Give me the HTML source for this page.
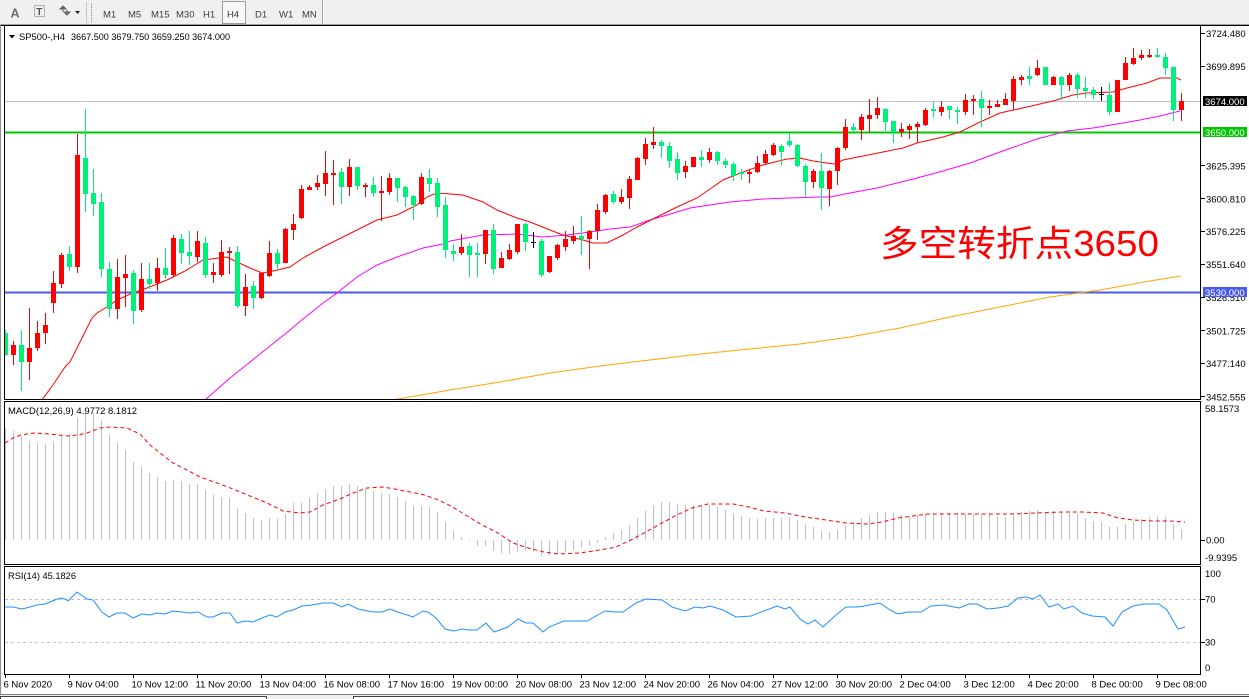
<!DOCTYPE html>
<html><head><meta charset="utf-8">
<style>
html,body{margin:0;padding:0;background:#fff;}
body{width:1249px;height:699px;overflow:hidden;}
svg{display:block;}
text{font-family:"Liberation Sans",Arial,sans-serif;}
</style></head>
<body>
<svg width="1249" height="699" viewBox="0 0 1249 699" xmlns="http://www.w3.org/2000/svg">
<defs>
<clipPath id="cm"><rect x="5" y="26" width="1195" height="373"/></clipPath>
<clipPath id="cd"><rect x="5" y="402" width="1195" height="162"/></clipPath>
<clipPath id="cr"><rect x="5" y="567" width="1195" height="107"/></clipPath>
</defs>
<!-- toolbar -->
<rect x="0" y="0" width="1249" height="25" fill="#f0f0f0"/>
<line x1="0" y1="24.5" x2="1249" y2="24.5" stroke="#a0a0a0"/>
<text x="10.5" y="17.5" font-size="12.5" fill="#6a6a6a" font-weight="bold">A</text>
<rect x="34.5" y="5.5" width="10" height="11" fill="none" stroke="#777" stroke-dasharray="1,1"/>
<text x="36.3" y="15" font-size="10" fill="#555" font-weight="bold">T</text>
<path d="M60 9l3-3 3 3zM64 12l3 3 3-3zM63 7v5M67 10v5" fill="#666" stroke="#666" stroke-width="1"/>
<path d="M75 11h5l-2.5 3z" fill="#222"/>
<line x1="86.5" y1="2" x2="86.5" y2="23" stroke="#c8c8c8"/>
<line x1="91.5" y1="3" x2="91.5" y2="22" stroke="#888" stroke-dasharray="1,1"/>
<rect x="222.5" y="1.5" width="23" height="22" fill="#f8f8f8" stroke="#9c9c9c"/>
<g font-size="9.5" fill="#3c3c3c">
<text x="103" y="17.3">M1</text>
<text x="128" y="17.3">M5</text>
<text x="151" y="17.3">M15</text>
<text x="176" y="17.3">M30</text>
<text x="203" y="17.3">H1</text>
<text x="227" y="17.3">H4</text>
<text x="255" y="17.3">D1</text>
<text x="279" y="17.3">W1</text>
<text x="302" y="17.3">MN</text>
</g>
<line x1="322.5" y1="0" x2="322.5" y2="24" stroke="#a8a8a8"/>
<line x1="323.5" y1="0" x2="323.5" y2="24" stroke="#fff"/>
<!-- frame -->
<line x1="0" y1="25.5" x2="1249" y2="25.5" stroke="#000"/>
<line x1="0.5" y1="25" x2="0.5" y2="694" stroke="#909090"/>
<rect x="4.5" y="25.5" width="1196" height="374" fill="none" stroke="#000"/>
<rect x="4.5" y="401.5" width="1196" height="163" fill="none" stroke="#000"/>
<rect x="4.5" y="566.5" width="1196" height="108" fill="none" stroke="#000"/>
<!-- bottom tab bar -->
<rect x="0" y="694" width="1249" height="5" fill="#f0f0f0"/>
<line x1="0" y1="694.5" x2="1249" y2="694.5" stroke="#808080"/>
<rect x="0.5" y="696.5" width="266" height="4" fill="#fff" stroke="#404040"/>
<rect x="353.5" y="696.5" width="896" height="4" fill="#fff" stroke="#404040"/>

<!-- MAIN PANEL -->
<g clip-path="url(#cm)">
<line x1="5" y1="101.5" x2="1200" y2="101.5" stroke="#c0c0c0"/>
<line x1="5" y1="132.5" x2="1200" y2="132.5" stroke="#00c800" stroke-width="2"/>
<line x1="5" y1="292.5" x2="1200" y2="292.5" stroke="#4a5ae8" stroke-width="2"/>
<polyline fill="none" stroke="#ffa500" stroke-width="1" points="395,399.5 450,390 500,382 550,373 600,366 650,360 700,354 750,349 800,344 850,337 900,328 950,317 1000,307 1050,297 1100,290 1150,281 1181,276"/>
<polyline fill="none" stroke="#ff00ff" stroke-width="1" points="205,400 230,378 260,354 290,330 303,319 323,303 337,293 357,277 377,265 397,257 423,248 443,244 450,241 483,235 517,234 543,237 567,235 590,232 610,229 630,227 650,220 667,215 690,208 710,205 730,202 763,199 790,198 817,197 830,197 850,193 877,188 897,183 917,178 943,171 970,163 1000,152 1037,139 1067,131 1093,128 1117,124 1140,120 1160,116 1180,111"/>
<polyline fill="none" stroke="#ff0000" stroke-width="1" points="42,400 55,382 65,367 70,362 80,342 92,318 97,313 107,307 117,300 133,293 147,288 167,280 183,272 190,268 203,260 227,257 237,262 250,268 262,273 273,271 290,267 303,258 323,247 343,237 357,230 377,220 397,215 417,205 427,197 437,193 450,194 463,195 483,202 497,210 517,218 530,222 550,230 563,235 583,240 593,243 607,243 623,235 637,227 657,217 677,207 697,198 710,189 723,180 743,172 763,165 787,159 800,158 813,161 827,163 835,164 843,160 863,156 883,152 903,148 917,143 943,137 960,132 980,122 1000,113 1027,107 1053,101 1073,95 1087,93 1113,92 1127,88 1147,83 1160,78 1177,78 1181,80"/>
<!-- red candles -->
<path fill="none" stroke="#ff0000" stroke-width="1" d="M13.5 341V365M29.5 308V380M37.5 321V351M45.5 313V344M53.5 271V313M61.5 253V288M77.5 134V273M117.5 259V319M125.5 255V307M141.5 263V312M157.5 258V291M173.5 235V277M197.5 231V262M213.5 263V283M221.5 240V277M229.5 247V274M245.5 274V316M261.5 273V299M269.5 241V277M285.5 228V263M293.5 214V240M301.5 185V219M309.5 185V190M317.5 175V190M325.5 151V196M333.5 160V205M349.5 159V196M365.5 183V197M381.5 176V221M389.5 173V195M421.5 173V205M461.5 234V255M485.5 230V264M501.5 252V268M509.5 244V260M517.5 224V254M549.5 256V273M557.5 244V260M565.5 231V251M573.5 226V244M589.5 230V269M597.5 204V240M605.5 194V214M621.5 189V204M629.5 176V209M637.5 157V180M645.5 138V165M653.5 127V149M685.5 161V178M693.5 157V167M709.5 148V163M749.5 170V183M757.5 156V173M765.5 150V164M773.5 143V156M813.5 169V188M829.5 170V206M837.5 147V185M845.5 119V150M861.5 114V140M869.5 99V133M877.5 97V119M901.5 123V137M909.5 124V139M917.5 122V143M925.5 108V126M941.5 101V116M965.5 94V115M973.5 95V115M989.5 100V115M997.5 100V107M1005.5 93V105M1013.5 76V110M1021.5 75V85M1037.5 60V76M1053.5 76V85M1069.5 73V91M1117.5 80V112M1125.5 57V80M1133.5 48V65M1141.5 50V60M1149.5 49V58M1181.5 93V121"/>
<path fill="#ff0000" d="M11 345h5v10h-5zM27 348h5v14h-5zM35 333h5v15h-5zM43 325h5v8h-5zM51 283h5v20h-5zM59 255h5v29h-5zM75 155h5v112h-5zM115 277h5v32h-5zM123 274h5v4h-5zM139 279h5v31h-5zM155 268h5v15h-5zM171 238h5v37h-5zM195 241h5v16h-5zM211 272h5v3h-5zM219 252h5v23h-5zM227 251h5v2h-5zM243 287h5v19h-5zM259 273h5v25h-5zM267 253h5v23h-5zM283 229h5v34h-5zM291 224h5v6h-5zM299 189h5v29h-5zM307 187h5v3h-5zM315 183h5v4h-5zM323 173h5v11h-5zM331 173h5v2h-5zM347 167h5v20h-5zM363 185h5v2h-5zM379 191h5v2h-5zM387 178h5v14h-5zM419 177h5v27h-5zM459 247h5v6h-5zM483 230h5v24h-5zM499 258h5v10h-5zM507 250h5v9h-5zM515 224h5v28h-5zM547 256h5v16h-5zM555 245h5v13h-5zM563 239h5v8h-5zM571 236h5v5h-5zM587 231h5v8h-5zM595 210h5v21h-5zM603 195h5v17h-5zM619 197h5v5h-5zM627 179h5v19h-5zM635 158h5v22h-5zM643 144h5v15h-5zM651 142h5v3h-5zM683 166h5v6h-5zM691 157h5v10h-5zM707 152h5v8h-5zM747 172h5v2h-5zM755 163h5v9h-5zM763 154h5v9h-5zM771 145h5v10h-5zM811 171h5v11h-5zM827 171h5v18h-5zM835 148h5v23h-5zM843 127h5v21h-5zM859 117h5v13h-5zM867 115h5v4h-5zM875 108h5v7h-5zM899 129h5v3h-5zM907 126h5v4h-5zM915 124h5v3h-5zM923 110h5v15h-5zM939 107h5v5h-5zM963 100h5v12h-5zM971 99h5v2h-5zM987 106h5v2h-5zM995 104h5v3h-5zM1003 99h5v6h-5zM1011 79h5v22h-5zM1019 77h5v3h-5zM1035 68h5v7h-5zM1051 77h5v8h-5zM1067 75h5v10h-5zM1115 80h5v32h-5zM1123 63h5v17h-5zM1131 58h5v6h-5zM1139 55h5v3h-5zM1147 55h5v2h-5zM1179 101h5v9h-5z"/>
<!-- green candles -->
<path fill="none" stroke="#00f07a" stroke-width="1" d="M5.5 330V356M21.5 330V391M69.5 246V271M85.5 109V212M93.5 169V216M101.5 193V277M109.5 262V317M133.5 270V324M149.5 263V289M165.5 248V279M181.5 234V264M189.5 231V265M205.5 237V278M237.5 246V308M253.5 281V309M277.5 249V270M341.5 168V204M357.5 167V190M373.5 177V197M397.5 178V202M405.5 186V207M413.5 195V220M429.5 169V192M437.5 178V217M445.5 197V258M453.5 244V261M469.5 243V277M477.5 243V277M493.5 224V274M525.5 223V251M541.5 239V277M581.5 216V255M613.5 191V204M661.5 140V158M669.5 142V168M677.5 152V180M701.5 150V167M717.5 151V165M725.5 158V168M733.5 162V181M741.5 169V180M781.5 144V165M789.5 133V147M797.5 144V167M805.5 164V197M821.5 153V210M853.5 123V132M885.5 108V131M893.5 121V143M933.5 102V118M949.5 106V119M957.5 107V124M981.5 91V127M1029.5 67V85M1045.5 67V85M1061.5 76V100M1077.5 73V98M1085.5 77V98M1093.5 87V99M1109.5 83V115M1157.5 48V58M1165.5 53V75M1173.5 67V121"/>
<path fill="#00f07a" d="M3 333h5v22h-5zM19 345h5v17h-5zM67 254h5v13h-5zM83 158h5v36h-5zM91 193h5v11h-5zM99 202h5v67h-5zM107 269h5v40h-5zM131 273h5v38h-5zM147 279h5v5h-5zM163 268h5v7h-5zM179 239h5v14h-5zM187 252h5v4h-5zM203 243h5v32h-5zM235 252h5v54h-5zM251 286h5v12h-5zM275 253h5v11h-5zM339 172h5v15h-5zM355 167h5v19h-5zM371 185h5v8h-5zM395 178h5v10h-5zM403 187h5v10h-5zM411 196h5v9h-5zM427 178h5v6h-5zM435 183h5v24h-5zM443 205h5v45h-5zM451 251h5v3h-5zM467 246h5v9h-5zM475 253h5v2h-5zM491 230h5v39h-5zM523 224h5v18h-5zM539 241h5v34h-5zM579 236h5v3h-5zM611 194h5v8h-5zM659 142h5v4h-5zM667 146h5v15h-5zM675 159h5v14h-5zM699 157h5v3h-5zM715 152h5v9h-5zM723 161h5v4h-5zM731 164h5v12h-5zM739 172h5v2h-5zM779 146h5v6h-5zM787 141h5v4h-5zM795 145h5v21h-5zM803 166h5v16h-5zM819 171h5v17h-5zM851 127h5v3h-5zM883 109h5v13h-5zM891 121h5v11h-5zM931 109h5v2h-5zM947 106h5v4h-5zM955 110h5v2h-5zM979 99h5v9h-5zM1027 76h5v3h-5zM1043 67h5v18h-5zM1059 77h5v8h-5zM1075 75h5v14h-5zM1083 88h5v3h-5zM1091 90h5v5h-5zM1107 95h5v17h-5zM1155 55h5v2h-5zM1163 57h5v11h-5zM1171 67h5v43h-5z"/>
<!-- doji -->
<path fill="none" stroke="#000" stroke-width="1" d="M533.5 232V248M531 242.5h5M1101.5 87V101M1099 94.5h5"/>
<text x="880" y="256" font-size="36" fill="#ff0000" textLength="279" lengthAdjust="spacingAndGlyphs" style='font-family:"Liberation Sans","Noto Sans CJK SC",sans-serif'>多空转折点3650</text>
</g>
<!-- header -->
<path d="M9 35h6l-3 3.5z" fill="#000"/>
<text x="19" y="40" font-size="9.5" fill="#000" textLength="46" lengthAdjust="spacingAndGlyphs">SP500-,H4</text>
<text x="71" y="40" font-size="9.5" fill="#000" textLength="159" lengthAdjust="spacingAndGlyphs">3667.500 3679.750 3659.250 3674.000</text>

<!-- price axis -->
<path stroke="#000" stroke-width="1" d="M1201 33.5h4M1201 66.5h4M1201 165.5h4M1201 198.5h4M1201 231.5h4M1201 264.5h4M1201 297.5h4M1201 330.5h4M1201 363.5h4M1201 396.5h4"/>
<g font-size="9.5" fill="#000">
<text x="1206" y="37">3724.480</text>
<text x="1206" y="70">3699.895</text>
<text x="1206" y="169.5">3625.395</text>
<text x="1206" y="202.5">3600.810</text>
<text x="1206" y="235">3576.225</text>
<text x="1206" y="268">3551.640</text>
<text x="1206" y="301">3526.510</text>
<text x="1206" y="334.5">3501.725</text>
<text x="1206" y="367">3477.140</text>
<text x="1206" y="400.5">3452.555</text>
</g>
<rect x="1203" y="96" width="44" height="10" fill="#000"/>
<text x="1205" y="104.8" font-size="9.5" fill="#fff">3674.000</text>
<rect x="1203" y="127" width="44" height="10" fill="#00c800"/>
<text x="1205" y="135.8" font-size="9.5" fill="#fff">3650.000</text>
<rect x="1203" y="287" width="44" height="10" fill="#4a5ae8"/>
<text x="1205" y="295.8" font-size="9.5" fill="#fff">3530.000</text>

<!-- MACD PANEL -->
<g clip-path="url(#cd)">
<path fill="none" stroke="#c0c0c0" stroke-width="1" d="M5.5 540V428M13.5 540V431M21.5 540V436M29.5 540V441M37.5 540V443M45.5 540V444M53.5 540V441M61.5 540V436M69.5 540V434M77.5 540V418M85.5 540V413M93.5 540V413M101.5 540V420M109.5 540V435M117.5 540V443M125.5 540V450M133.5 540V462M141.5 540V467M149.5 540V473M157.5 540V477M165.5 540V481M173.5 540V480M181.5 540V481M189.5 540V484M197.5 540V484M205.5 540V490M213.5 540V495M221.5 540V497M229.5 540V498M237.5 540V508M245.5 540V513M253.5 540V518M261.5 540V520M269.5 540V518M277.5 540V519M285.5 540V514M293.5 540V503M301.5 540V503M309.5 540V498M317.5 540V493M325.5 540V489M333.5 540V486M341.5 540V486M349.5 540V484M357.5 540V486M365.5 540V489M373.5 540V491M381.5 540V493M389.5 540V494M397.5 540V497M405.5 540V501M413.5 540V506M421.5 540V506M429.5 540V507M437.5 540V512M445.5 540V522M453.5 540V531M461.5 540V537M469.5 540V539M477.5 540V546M485.5 540V546M493.5 540V551M501.5 540V553M509.5 540V554M517.5 540V552M525.5 540V551M533.5 540V552M541.5 540V556M549.5 540V555M557.5 540V553M565.5 540V552M573.5 540V550M581.5 540V548M589.5 540V546M597.5 540V543M605.5 540V537M613.5 540V533M621.5 540V530M629.5 540V525M637.5 540V518M645.5 540V511M653.5 540V505M661.5 540V502M669.5 540V502M677.5 540V504M685.5 540V505M693.5 540V505M701.5 540V505M709.5 540V505M717.5 540V507M725.5 540V510M733.5 540V513M741.5 540V516M749.5 540V518M757.5 540V519M765.5 540V518M773.5 540V518M781.5 540V518M789.5 540V517M797.5 540V520M805.5 540V524M813.5 540V527M821.5 540V531M829.5 540V532M837.5 540V530M845.5 540V525M853.5 540V522M861.5 540V518M869.5 540V515M877.5 540V512M885.5 540V512M893.5 540V513M901.5 540V515M909.5 540V517M917.5 540V515M925.5 540V514M933.5 540V513M941.5 540V513M949.5 540V513M957.5 540V513M965.5 540V514M973.5 540V514M981.5 540V514M989.5 540V514M997.5 540V516M1005.5 540V517M1013.5 540V514M1021.5 540V512M1029.5 540V511M1037.5 540V510M1045.5 540V512M1053.5 540V511M1061.5 540V512M1069.5 540V513M1077.5 540V514M1085.5 540V518M1093.5 540V521M1101.5 540V522M1109.5 540V527M1117.5 540V527M1125.5 540V524M1133.5 540V521M1141.5 540V519M1149.5 540V517M1157.5 540V516M1165.5 540V517M1173.5 540V524M1181.5 540V529"/>
<polyline fill="none" stroke="#ff0000" stroke-width="1" stroke-dasharray="4,3" points="5,443 13,438 21,435 33,433 50,434 67,436 78,435 87,433 100,428 110,427 127,428 140,434 150,445 160,453 173,463 187,470 200,477 217,483 233,489 250,496 267,503 283,511 300,513 310,512 323,505 340,499 353,493 367,488 383,487 395,489 405,491 421,494 436,499 451,506 467,516 482,525 498,533 513,543 528,548 544,552 559,554 580,553 600,550 616,547 631,540 646,532 662,523 677,515 692,508 708,504 733,504 749,507 764,511 785,513 805,517 826,520 846,523 867,524 882,522 898,518 913,516 928,514 959,514 985,514 1010,514 1036,513 1062,512 1082,512 1103,513 1118,518 1133,520 1154,521 1169,521 1185,522"/>
</g>
<text x="8" y="414" font-size="9.5" fill="#000" textLength="129" lengthAdjust="spacingAndGlyphs">MACD(12,26,9) 4.9772 8.1812</text>
<path stroke="#000" stroke-width="1" d="M1201 540.5h4"/>
<g font-size="9.5" fill="#000">
<text x="1205" y="412">58.1573</text>
<text x="1206" y="543.5">0.00</text>
<text x="1205" y="561">-9.9395</text>
</g>

<!-- RSI PANEL -->
<g clip-path="url(#cr)">
<path fill="none" stroke="#c0c0c0" stroke-width="1" stroke-dasharray="3,3" d="M5 599.5H1200M5 642.5H1200"/>
<polyline fill="none" stroke="#1e90ff" stroke-width="1" points="5,607 13,607 22,609 30,607 37,605 45,604 50,602 60,598 65,599 68,601 77,592 87,599 93,600 102,612 109,617 117,613 125,613 133,618 142,614 150,615 157,613 165,614 173,611 182,612 190,613 198,612 207,617 213,617 222,613 230,613 237,623 245,621 253,622 262,618 270,615 277,617 285,612 293,610 302,606 312,605 323,603 333,603 342,607 348,604 358,609 373,612 382,612 390,609 398,612 413,617 423,611 428,612 436,618 445,629 454,631 462,629 469,630 477,630 486,623 494,632 508,627 518,619 526,623 533,623 543,632 549,627 564,621 572,621 587,621 605,611 616,612 623,612 636,603 646,599 662,600 672,607 685,611 695,607 703,608 710,606 723,610 736,617 751,616 764,611 777,606 785,609 790,607 800,619 808,624 815,620 823,627 836,615 846,607 857,607 864,606 880,603 890,610 898,614 908,612 921,612 931,606 944,605 959,608 969,604 977,604 987,609 998,608 1008,606 1018,598 1026,597 1033,599 1040,595 1049,607 1058,604 1064,609 1073,606 1082,613 1092,616 1105,617 1113,626 1122,612 1133,606 1144,604 1159,604 1167,610 1178,629 1185,627"/>
</g>
<text x="8" y="579" font-size="9.5" fill="#000" textLength="68" lengthAdjust="spacingAndGlyphs">RSI(14) 45.1826</text>
<path stroke="#000" stroke-width="1" d="M1201 599.5h4M1201 642.5h4"/>
<g font-size="9.5" fill="#000">
<text x="1205" y="577">100</text>
<text x="1205" y="602.5">70</text>
<text x="1205" y="645.5">30</text>
<text x="1205" y="671">0</text>
</g>

<!-- time axis -->
<path stroke="#000" stroke-width="1" d="M5.5 675v3M69.5 675v3M133.5 675v3M197.5 675v3M261.5 675v3M325.5 675v3M389.5 675v3M453.5 675v3M517.5 675v3M581.5 675v3M645.5 675v3M709.5 675v3M773.5 675v3M837.5 675v3M901.5 675v3M965.5 675v3M1029.5 675v3M1093.5 675v3M1157.5 675v3"/>
<g font-size="9.5" fill="#000">
<text x="3.5" y="687.5">6 Nov 2020</text>
<text x="67.5" y="687.5">9 Nov 04:00</text>
<text x="131.5" y="687.5">10 Nov 12:00</text>
<text x="195.5" y="687.5">11 Nov 20:00</text>
<text x="259.5" y="687.5">13 Nov 04:00</text>
<text x="323.5" y="687.5">16 Nov 08:00</text>
<text x="387.5" y="687.5">17 Nov 16:00</text>
<text x="451.5" y="687.5">19 Nov 00:00</text>
<text x="515.5" y="687.5">20 Nov 08:00</text>
<text x="579.5" y="687.5">23 Nov 12:00</text>
<text x="643.5" y="687.5">24 Nov 20:00</text>
<text x="707.5" y="687.5">26 Nov 04:00</text>
<text x="771.5" y="687.5">27 Nov 12:00</text>
<text x="835.5" y="687.5">30 Nov 20:00</text>
<text x="899.5" y="687.5">2 Dec 04:00</text>
<text x="963.5" y="687.5">3 Dec 12:00</text>
<text x="1027.5" y="687.5">4 Dec 20:00</text>
<text x="1091.5" y="687.5">8 Dec 00:00</text>
<text x="1155.5" y="687.5">9 Dec 08:00</text>
</g>
</svg>
</body></html>
